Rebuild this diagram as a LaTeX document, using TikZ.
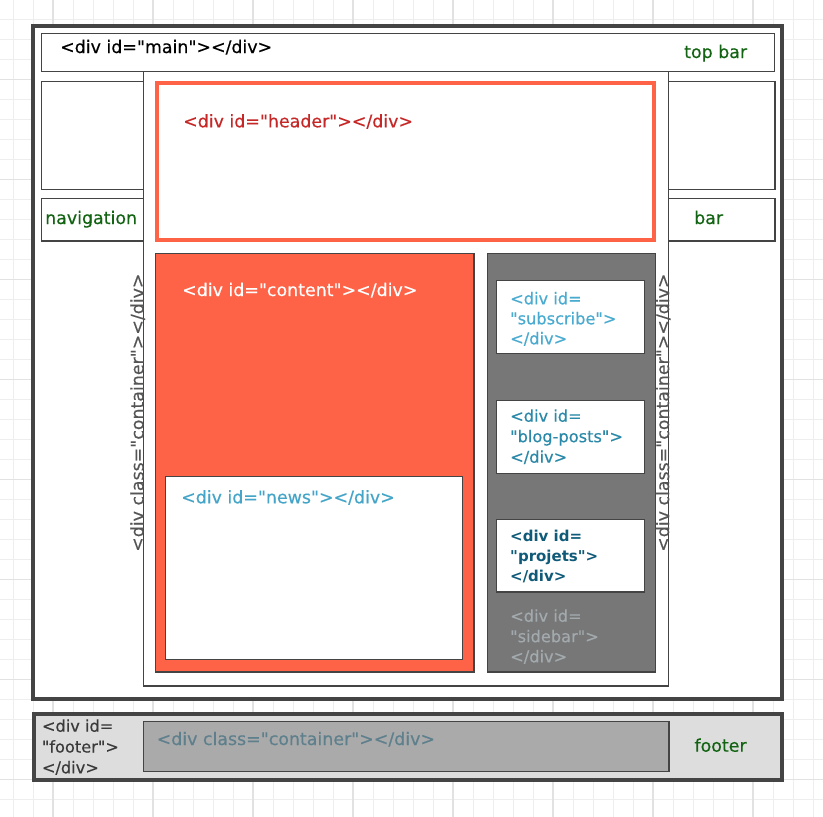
\documentclass[tikz,border=0pt]{standalone}
\usepackage{fontspec}
\setmainfont{DejaVu Sans}[Ligatures=TeXOff, FakeBold=0.35]
\newfontfamily\dvb{DejaVu Sans Bold}[Ligatures=TeXOff]
\definecolor{dk}{HTML}{444444}
\definecolor{tomatoc}{HTML}{FF6347}
\definecolor{greenc}{HTML}{126312}
\definecolor{headc}{HTML}{C62828}
\definecolor{newsc}{HTML}{45A5C8}
\definecolor{subc}{HTML}{4AABD0}
\definecolor{blogc}{HTML}{2A89A8}
\definecolor{projc}{HTML}{0F5A78}
\definecolor{sidec}{HTML}{A3AAAE}
\definecolor{sidefill}{HTML}{777777}
\definecolor{rotc}{HTML}{555555}
\definecolor{footfill}{HTML}{DDDDDD}
\definecolor{footcfill}{HTML}{AAAAAA}
\definecolor{footctext}{HTML}{5E7F8C}
\definecolor{foottext}{HTML}{3A3A3A}
\definecolor{gridmin}{HTML}{EEEEEE}
\definecolor{gridmaj}{HTML}{E2E2E2}
\begin{document}
\begin{tikzpicture}[x=1pt,y=-1pt,
  box/.style={draw=dk, line width=1.5pt, fill=white, inner sep=0pt, outer sep=0pt, anchor=north west},
  thickbox/.style={box, line width=4pt},
  lbl/.style={anchor=base west, inner sep=0pt, font=\fontsize{17.4}{20}\selectfont},
  sml/.style={anchor=base west, inner sep=0pt, font=\fontsize{16.2}{20}\selectfont},
  smlb/.style={anchor=base west, inner sep=0pt, font=\dvb\fontsize{15}{20}\selectfont},
  gridminor/.style={draw=gridmin, line width=1pt},
  gridmajor/.style={draw=gridmaj, line width=1.2pt},
]
\useasboundingbox (0,0) rectangle (823,817);
\fill[white] (0,0) rectangle (823,817);
% grid
\foreach \x in {13,33,...,813} {\draw[gridminor] (\x,0) -- (\x,817);}
\foreach \y in {-0.5,19.5,...,819.5} {\draw[gridminor] (0,\y) -- (823,\y);}
\foreach \x in {53,153,...,753} {\draw[gridmajor] (\x,0) -- (\x,817);}
\foreach \y in {79.5,179.5,...,779.5} {\draw[gridmajor] (0,\y) -- (823,\y);}

% main wrapper
\node[thickbox, minimum width=749pt, minimum height=673pt] (main) at (33,26) {};
\node[box, minimum width=733pt, minimum height=38pt] (topbar) at (41.5,33.5) {};
\node[box, minimum width=733.5pt, minimum height=108pt] (bandA) at (41.5,81.5) {};
\node[box, minimum width=733.5pt, minimum height=42.5pt] (navbar) at (41.5,198.5) {};
\node[box, minimum width=525pt, minimum height=614.5pt] (container) at (143.5,71.5) {};

% header
\node[box, draw=tomatoc, line width=4pt, minimum width=497pt, minimum height=156.7pt] (header) at (157,83) {};
% content
\node[box, fill=tomatoc, minimum width=318.5pt, minimum height=418.5pt] (content) at (155.5,253.5) {};
\node[box, minimum width=297pt, minimum height=183pt] (news) at (165.5,476.5) {};
% sidebar
\node[box, fill=sidefill, minimum width=168pt, minimum height=418.5pt] (sidebar) at (487.5,253.5) {};
\node[box, minimum width=148pt, minimum height=73pt] (subscribe) at (496.5,280.5) {};
\node[box, minimum width=148pt, minimum height=73pt] (blog) at (496.5,400.5) {};
\node[box, minimum width=148pt, minimum height=72.5pt] (projets) at (496.5,519.5) {};

% footer
\node[thickbox, fill=footfill, minimum width=748.5pt, minimum height=66.3pt] (footer) at (33.5,713.7) {};
\node[box, fill=footcfill, minimum width=525.3pt, minimum height=49.6pt] (footcont) at (143.5,721.7) {};

% labels
\node[lbl, text=black] (tmain) at (60,53) {<div id="main"></div>};
\node[lbl, text=greenc] (ttop) at (684,58) {top bar};
\node[lbl, text=greenc] (tnav) at (45,224) {navigation};
\node[lbl, text=greenc] (tbar) at (694,224) {bar};
\node[lbl, text=headc] (thead) at (183,127.3) {<div id="header"></div>};
\node[lbl, text=white] (tcont) at (182,296) {<div id="content"></div>};
\node[lbl, text=newsc] (tnews) at (181,503.3) {<div id="news"></div>};

\node[sml, text=subc] (ts1) at (510,304.3) {<div id=};
\node[sml, text=subc] (ts2) at (510,324.3) {"subscribe">};
\node[sml, text=subc] (ts3) at (510,344.3) {</div>};

\node[sml, text=blogc] (tb1) at (510,421.7) {<div id=};
\node[sml, text=blogc] (tb2) at (510,442.2) {"blog-posts">};
\node[sml, text=blogc] (tb3) at (510,462.7) {</div>};

\node[smlb, text=projc] (tp1) at (510,541) {<div id=};
\node[smlb, text=projc] (tp2) at (510,561) {"projets">};
\node[smlb, text=projc] (tp3) at (510,581) {</div>};

\node[sml, text=sidec] (tsd1) at (510,621.7) {<div id=};
\node[sml, text=sidec] (tsd2) at (510,642.2) {"sidebar">};
\node[sml, text=sidec] (tsd3) at (510,662.3) {</div>};

\node[lbl, text=rotc, rotate=90] (trotL) at (143.5,552) {<div class="container"></div>};
\node[lbl, text=rotc, rotate=90] (trotR) at (669,552) {<div class="container"></div>};

\node[sml, text=foottext] (tf1) at (41.7,731.7) {<div id=};
\node[sml, text=foottext] (tf2) at (41.7,752.5) {"footer">};
\node[sml, text=foottext] (tf3) at (41.7,773.3) {</div>};
\node[lbl, text=footctext] (tfc) at (156.5,745) {<div class="container"></div>};
\node[lbl, text=greenc] (tfoot) at (694.3,751.7) {footer};
\end{tikzpicture}
\end{document}
